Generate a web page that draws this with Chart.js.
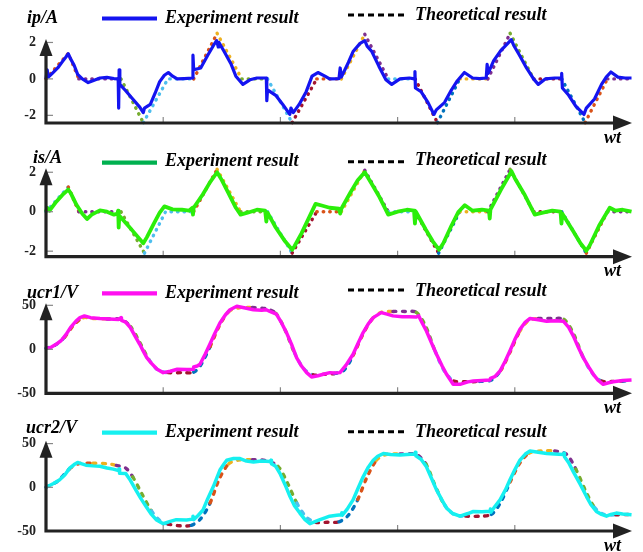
<!DOCTYPE html>
<html>
<head>
<meta charset="utf-8">
<script src="https://cdn.jsdelivr.net/npm/chart.js@4.4.0/dist/chart.umd.min.js"></script>
<style>
  html, body { margin: 0; padding: 0; background: #fff; }
  #wrap { position: relative; width: 643px; height: 552px; }
  #wrap canvas { position: absolute; left: 0; top: 0; }
</style>
</head>
<body>
<div id="wrap">
  <canvas id="c1" width="643" height="552"></canvas>
  <canvas id="c2" width="643" height="552"></canvas>
  <canvas id="c3" width="643" height="552"></canvas>
  <canvas id="c4" width="643" height="552"></canvas>
</div>
<script>
// ---- data: [wt, value] ----
const xTicks = [0, 5, 10, 15, 20];
const currentTicks = [-2, 0, 2];
const voltageTicks = [-50, 0, 50];

const ipExp = [[0,0],[0.05,0.5],[0.1,0.1],[0.3,0.35],[0.5,0.6],[0.7,0.95],[0.85,1.2],[0.95,1.38],[1.05,1.1],[1.2,0.75],[1.35,0.25],[1.55,0],[1.8,-0.2],[2.0,-0.1],[2.3,0.05],[2.6,0.08],[2.9,0.02],[3.08,0.0],[3.1,-1.6],[3.12,0.5],[3.15,-0.3],[3.4,-0.65],[3.7,-1.1],[4.0,-1.55],[4.15,-1.85],[4.2,-1.6],[4.45,-1.4],[4.65,-0.8],[4.85,-0.15],[5.05,0.2],[5.22,0.35],[5.4,0.15],[5.6,0.0],[5.9,0.02],[6.25,0.05],[6.27,1.3],[6.3,0.5],[6.6,0.6],[6.9,1.3],[7.15,1.85],[7.28,2.1],[7.35,1.75],[7.38,2.0],[7.6,1.5],[7.9,0.8],[8.1,0.15],[8.4,-0.3],[8.7,-0.05],[9.0,0.05],[9.4,0.05],[9.42,-1.2],[9.45,-0.6],[9.8,-0.9],[10.1,-1.4],[10.4,-1.95],[10.45,-1.6],[10.55,-1.85],[10.8,-1.4],[11.1,-0.7],[11.35,0.15],[11.6,0.35],[11.9,0.15],[12.1,0],[12.5,0.02],[12.55,0.6],[12.6,0.1],[12.9,0.9],[13.1,1.5],[13.4,1.95],[13.6,2.1],[13.7,1.8],[13.9,1.5],[14.2,0.7],[14.5,-0.05],[14.75,-0.3],[15.1,0],[15.5,0.05],[15.72,0.0],[15.74,0.4],[15.76,-0.5],[16.0,-0.7],[16.3,-1.3],[16.55,-1.95],[16.65,-1.7],[17.0,-1.3],[17.3,-0.6],[17.55,-0.1],[17.85,0.35],[18.2,0.05],[18.5,0.02],[18.78,0.05],[18.82,0.8],[18.86,0.3],[19.1,1.0],[19.4,1.55],[19.7,1.95],[19.85,2.15],[19.95,1.85],[20.2,1.3],[20.5,0.6],[20.8,0.0],[21.0,-0.3],[21.3,0.0],[21.7,0.05],[21.98,0.05],[22.0,0.3],[22.03,-0.5],[22.3,-0.9],[22.6,-1.5],[22.95,-1.95],[23.05,-1.6],[23.4,-1.1],[23.7,-0.3],[23.9,0.1],[24.1,0.38],[24.4,0.1],[24.7,0.05],[24.98,0.05]];
const ipTh = [[0,0],[0.95,1.4],[1.4,0],[3.2,0],[4.15,-2.4],[5.2,0],[6.3,0],[7.3,2.5],[8.35,0],[9.45,0],[10.5,-2.4],[11.55,0],[12.6,0],[13.6,2.45],[14.6,0],[15.75,0],[16.7,-2.4],[17.65,0],[18.85,0],[19.8,2.5],[20.8,0],[22.0,0],[23.0,-2.4],[23.95,0],[25,0]];
const ipThColors = ['#D95319','#D95319','#7E2F8E','#77AC30','#4DBEEE','#4DBEEE','#D95319','#EDB120','#77AC30','#4DBEEE','#A2142F','#D95319','#EDB120','#7E2F8E','#4DBEEE','#A2142F','#0072BD','#EDB120','#7E2F8E','#77AC30','#A2142F','#0072BD','#D95319','#7E2F8E'];

const isExp = [[0,0],[0.05,0.2],[0.15,0.05],[0.4,0.45],[0.7,0.85],[0.95,1.12],[1.05,0.95],[1.3,0.35],[1.55,-0.1],[1.75,-0.37],[1.95,-0.15],[2.3,0.07],[2.6,0.0],[2.9,-0.15],[3.05,-0.1],[3.08,0.05],[3.1,-0.8],[3.13,-0.2],[3.5,-0.7],[3.9,-1.25],[4.15,-1.6],[4.3,-1.3],[4.6,-0.6],[4.85,-0.05],[5.05,0.27],[5.4,0.12],[5.8,0.1],[6.1,0.05],[6.25,0.2],[6.27,-0.15],[6.3,0.2],[6.7,0.9],[7.0,1.5],[7.3,2.0],[7.5,1.6],[7.8,0.9],[8.1,0.2],[8.3,-0.15],[8.6,-0.05],[9.0,0.1],[9.35,0.05],[9.4,-0.5],[9.45,-0.05],[9.8,-0.8],[10.2,-1.5],[10.5,-1.93],[10.6,-1.75],[10.9,-1.1],[11.2,-0.35],[11.5,0.4],[11.8,0.3],[12.1,0.2],[12.5,0.15],[12.55,-0.1],[12.6,0.15],[13.0,1.0],[13.3,1.6],[13.6,2.0],[13.9,1.4],[14.2,0.8],[14.6,-0.15],[15.0,0.0],[15.4,0.1],[15.7,0.05],[15.74,-0.6],[15.78,0.0],[16.2,-0.9],[16.5,-1.5],[16.77,-1.93],[16.95,-1.6],[17.3,-0.7],[17.6,0.0],[17.87,0.33],[18.2,0.05],[18.6,0.1],[18.9,0.05],[18.93,-0.35],[18.96,0.1],[19.4,1.1],[19.86,2.05],[20.0,1.7],[20.4,0.9],[20.85,-0.15],[21.2,-0.05],[21.6,0.05],[21.95,0.0],[21.99,-0.6],[22.03,-0.1],[22.5,-1.0],[22.8,-1.6],[23.05,-1.98],[23.2,-1.7],[23.6,-0.7],[24.05,0.2],[24.3,0.05],[24.6,0.1],[24.98,0.0]];
const isTh = [[0,0],[0.95,1.25],[1.4,0],[3.2,0],[4.2,-2.1],[5.1,0],[6.3,0],[7.3,2.15],[8.3,0],[9.45,0],[10.5,-2.1],[11.55,0],[12.6,0],[13.6,2.1],[14.6,0],[15.75,0],[16.75,-2.1],[17.65,0],[18.85,0],[19.8,2.15],[20.8,0],[22.0,0],[23.05,-2.1],[23.95,0],[25,0]];
const isThColors = ['#4DBEEE','#D95319','#7E2F8E','#77AC30','#4DBEEE','#4DBEEE','#D95319','#EDB120','#77AC30','#4DBEEE','#A2142F','#D95319','#EDB120','#7E2F8E','#4DBEEE','#A2142F','#0072BD','#EDB120','#7E2F8E','#77AC30','#A2142F','#0072BD','#D95319','#7E2F8E'];

const ucr1Exp = [[0,1],[0.2,2],[0.43,5.7],[0.65,10],[0.86,17],[1.05,25],[1.28,32],[1.45,36],[1.64,37.9],[1.9,36],[2.3,35],[2.7,34.5],[3.1,34],[3.2,36],[3.22,33],[3.4,31],[3.6,24.6],[3.8,15],[4.0,5.7],[4.15,-2],[4.3,-9.5],[4.5,-16],[4.74,-22.7],[5.0,-26.5],[5.3,-25],[5.6,-22.7],[6.0,-23],[6.28,-22.7],[6.3,-20],[6.45,-19],[6.57,-17],[6.8,-5],[6.99,5.7],[7.2,18],[7.42,30],[7.65,39],[7.85,45],[8.14,49],[8.5,47],[8.85,45],[9.2,44.5],[9.4,45],[9.55,43],[9.83,40],[10.05,30],[10.26,19],[10.5,4],[10.69,-9.5],[10.9,-19],[11.12,-26.5],[11.33,-31.4],[11.6,-30],[11.83,-28.4],[12.11,-26.5],[12.3,-27],[12.54,-26.5],[12.8,-18],[13.1,-5.7],[13.3,6],[13.53,19],[13.75,29],[13.96,36],[14.3,41.7],[14.55,40],[14.8,38],[15.2,37],[15.5,37],[15.8,36.7],[15.9,38],[16.05,30],[16.23,20.8],[16.45,7],[16.66,-5.7],[16.9,-19],[17.09,-28.4],[17.37,-39.8],[17.66,-39.8],[18.0,-37],[18.23,-36],[18.6,-35.5],[18.94,-35],[18.96,-33],[19.15,-31],[19.37,-24.6],[19.6,-13],[19.79,-1.9],[20.0,11],[20.22,22.7],[20.45,31],[20.65,35],[21.0,33.5],[21.36,32],[21.7,32.5],[22.07,32],[22.3,25],[22.5,15],[22.7,3],[22.92,-9.5],[23.15,-20],[23.35,-28.4],[23.55,-35],[23.77,-39.8],[24.0,-38],[24.2,-36.8],[24.6,-35.5],[24.98,-35]];
const ucr1Th = [[0,1],[0.4,5],[0.8,14],[1.2,28],[1.6,36],[2.0,35],[2.6,34.5],[3.2,34],[3.6,26],[4.0,8],[4.4,-12],[4.8,-24],[5.2,-26.5],[5.8,-26.5],[6.3,-26],[6.6,-18],[7.0,3],[7.4,27],[7.8,43],[8.2,47],[8.8,47.5],[9.4,46],[9.8,41],[10.2,22],[10.6,-4],[11.0,-22],[11.4,-29],[11.8,-28.5],[12.3,-27.5],[12.7,-24],[13.1,-7],[13.5,16],[13.9,34],[14.3,42],[14.8,43],[15.3,43],[15.8,42],[16.2,26],[16.6,-2],[17.0,-25],[17.4,-36],[17.9,-36.8],[18.5,-36.5],[19.0,-35],[19.4,-24],[19.8,-3],[20.2,20],[20.6,33],[21.0,35],[21.6,35],[22.1,34],[22.5,18],[22.9,-8],[23.3,-27],[23.7,-36],[24.2,-36.5],[24.6,-36],[25,-35]];

const ucr2Exp = [[0,0],[0.3,4],[0.57,8.3],[0.8,14],[1.0,21.6],[1.2,26],[1.35,28.4],[1.5,27],[1.7,25.3],[2.0,24.5],[2.3,24],[2.6,22],[2.87,20.8],[3.1,19],[3.12,21],[3.14,16],[3.4,15.9],[3.6,8],[3.83,-3],[4.05,-13],[4.27,-22],[4.5,-31],[4.7,-37],[5.0,-41.7],[5.3,-39],[5.56,-37],[6.0,-37.5],[6.25,-36.4],[6.27,-33],[6.3,-37],[6.5,-32],[6.7,-25.8],[6.9,-13],[7.14,0.8],[7.42,19.7],[7.6,27],[7.71,31],[8.0,33],[8.28,32.8],[8.55,30],[8.85,29],[9.2,30],[9.55,29.5],[9.6,31],[9.62,27],[9.8,24],[9.98,15.9],[10.2,3],[10.41,-10.6],[10.6,-21],[10.83,-29.5],[11.05,-37],[11.26,-41.7],[11.5,-39],[11.69,-37],[11.9,-35],[12.1,-33],[12.4,-32],[12.6,-31.5],[12.62,-29],[12.64,-32],[12.85,-25],[13.1,-14.4],[13.3,-2],[13.53,12],[13.75,23],[13.96,31],[14.15,35.5],[14.39,38.6],[14.7,37.5],[15.1,37],[15.4,37.5],[15.74,38],[15.76,40],[15.78,36],[16.0,32],[16.23,23.4],[16.45,10],[16.66,-3],[16.9,-15],[17.09,-23.9],[17.35,-30],[17.66,-33],[18.0,-30],[18.23,-27.7],[18.6,-28],[18.94,-27.5],[18.96,-25],[18.98,-28.5],[19.15,-22],[19.37,-14.4],[19.6,-3],[19.79,8.3],[20.0,20],[20.22,31],[20.45,38],[20.65,41.6],[21.0,40],[21.36,38.6],[21.7,38],[22.07,37.5],[22.1,39],[22.12,35],[22.3,28],[22.5,17.7],[22.8,3],[23.06,-10.6],[23.25,-20],[23.48,-27.7],[23.7,-31],[23.91,-33],[24.1,-31],[24.33,-29.5],[24.6,-30.5],[24.98,-31.5]];
const ucr2Th = [[0,0],[0.5,7],[1.0,21],[1.4,27],[2.0,27.5],[2.6,27],[3.0,25],[3.4,22],[3.7,12],[4.1,-8],[4.5,-27],[4.9,-39],[5.2,-42],[5.7,-44],[6.2,-43.5],[6.6,-36],[7.0,-18],[7.4,10],[7.8,27],[8.2,31],[8.8,31.5],[9.4,30.5],[9.9,24],[10.3,5],[10.7,-18],[11.1,-34],[11.5,-40],[12.0,-40],[12.5,-39.5],[12.9,-32],[13.3,-14],[13.7,12],[14.1,31],[14.5,37.5],[15.1,38],[15.8,37.5],[16.2,27],[16.6,2],[17.0,-20],[17.4,-31],[17.9,-33],[18.5,-33],[19.0,-31],[19.4,-17],[19.8,6],[20.2,27],[20.6,39],[21.1,41.5],[21.7,41.5],[22.2,38],[22.6,21],[23.0,-3],[23.4,-23],[23.8,-31],[24.3,-31.5],[25,-31]];

// MATLAB default line colours used by the piecewise theoretical curves
const matlabColors = ['#0072BD','#D95319','#EDB120','#7E2F8E','#77AC30','#4DBEEE','#A2142F'];

const serif = '"Liberation Serif", "Times New Roman", serif';

const panels = [
  { id: 'c1', title: 'ip/A', titleX: 27, titleY: 23, expY: 18.5, expTextY: 22.5, thY: 15, thTextY: 20,
    top: 39, axisY: 123, min: -2.42, max: 2.19, yTicks: currentTicks,
    exp: ipExp, th: ipTh, thColors: ipThColors, color: '#1414F0', legendColor: '#1414F0', expWidth: 3.2, thDash: [0.5, 6] },
  { id: 'c2', title: 'is/A', titleX: 33, titleY: 163, expY: 162.7, expTextY: 166, thY: 161.7, thTextY: 165,
    top: 168.3, axisY: 256.7, min: -2.28, max: 2.2, yTicks: currentTicks,
    exp: isExp, th: isTh, thColors: isThColors, color: '#2BEE0A', legendColor: '#00B04F', expWidth: 3.8, thDash: [0.5, 6] },
  { id: 'c3', title: 'ucr1/V', titleX: 27, titleY: 298, expY: 293.3, expTextY: 298, thY: 290, thTextY: 295.5,
    top: 303.3, axisY: 393.3, min: -50, max: 52.3, yTicks: voltageTicks,
    exp: ucr1Exp, th: ucr1Th, thColors: null, color: '#FF10F0', legendColor: '#FF10F0', expWidth: 3.5, thDash: [3, 6.5] },
  { id: 'c4', title: 'ucr2/V', titleX: 26, titleY: 433, expY: 432.7, expTextY: 436.5, thY: 431.7, thTextY: 436.5,
    top: 440.7, axisY: 531, min: -50, max: 53.3, yTicks: voltageTicks,
    exp: ucr2Exp, th: ucr2Th, thColors: null, color: '#16F0F0', legendColor: '#16F0F0', expWidth: 3.5, thDash: [3, 6.5] }
];

// axes with arrows, inward ticks, titles and legend
const decorPlugin = {
  id: 'decor',
  afterDraw(chart, args, opts) {
    const p = opts.panel;
    const ctx = chart.ctx;
    const xs = chart.scales.x, ys = chart.scales.y;
    const x0 = xs.getPixelForValue(0);
    const xEnd = xs.getPixelForValue(xs.max);
    const yBot = ys.getPixelForValue(ys.min);
    const yTop = ys.getPixelForValue(ys.max);
    ctx.save();
    // tick marks
    ctx.strokeStyle = '#888';
    ctx.lineWidth = 1.2;
    p.yTicks.forEach(v => {
      const y = ys.getPixelForValue(v);
      ctx.beginPath(); ctx.moveTo(x0, y); ctx.lineTo(x0 + 7, y); ctx.stroke();
    });
    xTicks.slice(1).forEach(v => {
      const x = xs.getPixelForValue(v);
      ctx.beginPath(); ctx.moveTo(x, yBot); ctx.lineTo(x, yBot - 6); ctx.stroke();
    });
    // axis lines
    ctx.strokeStyle = '#222';
    ctx.fillStyle = '#222';
    ctx.lineWidth = 3.2;
    ctx.beginPath();
    ctx.moveTo(x0, yTop + 10);
    ctx.lineTo(x0, yBot);
    ctx.lineTo(xEnd - 10, yBot);
    ctx.stroke();
    // arrow heads
    ctx.beginPath();
    ctx.moveTo(x0, yTop); ctx.lineTo(x0 - 6.5, yTop + 17); ctx.lineTo(x0 + 6.5, yTop + 17); ctx.closePath();
    ctx.fill();
    ctx.beginPath();
    ctx.moveTo(xEnd, yBot); ctx.lineTo(xEnd - 19, yBot - 7.5); ctx.lineTo(xEnd - 19, yBot + 7.5); ctx.closePath();
    ctx.fill();
    // labels
    ctx.fillStyle = '#000';
    ctx.textBaseline = 'alphabetic';
    ctx.font = 'bold italic 18px ' + serif;
    ctx.fillText(p.title, p.titleX, p.titleY);
    ctx.fillText('wt', 604, yBot + 19.5);
    // legend
    ctx.strokeStyle = p.legendColor;
    ctx.lineWidth = 4.2;
    ctx.beginPath(); ctx.moveTo(102, p.expY); ctx.lineTo(157, p.expY); ctx.stroke();
    ctx.fillText('Experiment result', 165, p.expTextY);
    ctx.strokeStyle = '#000';
    ctx.lineWidth = 3;
    ctx.setLineDash([6, 4]);
    ctx.beginPath(); ctx.moveTo(348, p.thY); ctx.lineTo(404, p.thY); ctx.stroke();
    ctx.setLineDash([]);
    ctx.fillText('Theoretical result', 415, p.thTextY);
    ctx.restore();
  }
};

function toXY(list) {
  return list.map(([x, y]) => ({ x, y }));
}

panels.forEach(p => {
  const thColor = c => p.thColors ? p.thColors[c.p0DataIndex % p.thColors.length]
                                  : matlabColors[Math.floor(c.p0DataIndex / 2) % matlabColors.length];
  new Chart(document.getElementById(p.id), {
    type: 'line',
    data: {
      datasets: [
        { label: 'Experiment result', data: toXY(p.exp), borderColor: p.color, borderWidth: p.expWidth,
          pointRadius: 0, tension: 0, clip: false, borderJoinStyle: 'round' },
        { label: 'Theoretical result', data: toXY(p.th), borderColor: '#000', borderWidth: 3.4,
          borderDash: p.thDash, borderCapStyle: 'round', pointRadius: 0, tension: p.thColors ? 0 : 0.3,
          clip: false, segment: { borderColor: thColor } }
      ]
    },
    options: {
      responsive: false,
      animation: false,
      events: [],
      layout: { padding: { left: 0, right: 11, top: p.top, bottom: 552 - p.axisY } },
      plugins: {
        legend: { display: false },
        tooltip: { enabled: false },
        decor: { panel: p }
      },
      scales: {
        x: {
          type: 'linear', min: 0, max: 25,
          afterBuildTicks: s => { s.ticks = xTicks.map(v => ({ value: v })); },
          afterFit: s => { s.height = 0; },
          grid: { display: false, drawTicks: false },
          border: { display: false },
          ticks: { padding: 5, color: '#222', maxRotation: 0, autoSkip: false,
                   font: { family: serif, size: 14, weight: 'bold' } }
        },
        y: {
          type: 'linear', min: p.min, max: p.max,
          afterBuildTicks: s => { s.ticks = p.yTicks.map(v => ({ value: v })); },
          afterFit: s => { s.width = 46; },
          grid: { display: false, drawTicks: false },
          border: { display: false },
          ticks: { padding: 10, color: '#222', autoSkip: false,
                   font: { family: serif, size: 14, weight: 'bold' } }
        }
      }
    },
    plugins: [decorPlugin]
  });
});
</script>
</body>
</html>
